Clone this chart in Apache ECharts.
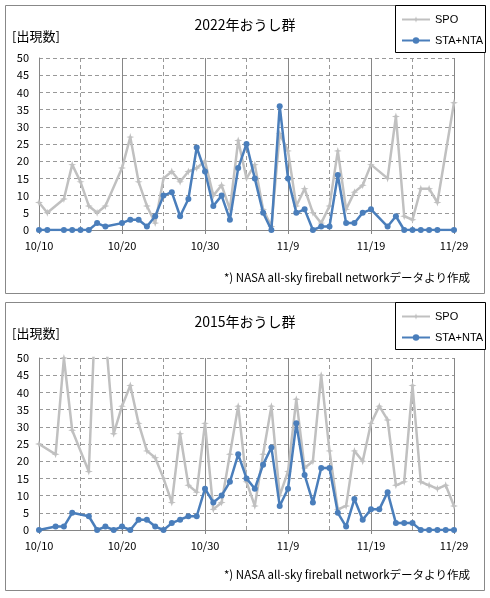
<!DOCTYPE html>
<html>
<head>
<meta charset="utf-8">
<script src="https://cdn.jsdelivr.net/npm/echarts@6/dist/echarts.min.js"></script>
<style>
html,body{margin:0;padding:0;background:#fff;}
#c{width:490px;height:598px;}
</style>
</head>
<body>
<div id="c"></div>
<script>
// Day offset from 10/10
var tickLabels = ['10/10','10/20','10/30','11/9','11/19','11/29'];

var days2022 = [0,1,3,4,5,6,7,8,10,11,12,13,14,15,16,17,18,19,20,21,22,23,24,25,26,27,28,29,30,31,32,33,34,35,36,37,38,39,40,42,43,44,45,46,47,48,50];
var spo2022  = [8,5,9,19,14,7,5,7,18,27,14,7,2,15,17,14,17,18,20,10,13,6,26,15,19,6,1,28,23,7,12,5,2,7,23,6,11,13,19,15,33,4,3,12,12,8,37];
var sta2022  = [0,0,0,0,0,0,2,1,2,3,3,1,4,10,11,4,9,24,17,7,10,3,18,25,15,5,0,36,15,5,6,0,1,1,16,2,2,5,6,1,4,0,0,0,0,0,0];

var days2015 = [0,2,3,4,6,7,8,9,10,11,12,13,14,15,16,17,18,19,20,21,22,23,24,25,26,27,28,29,30,31,32,33,34,35,36,37,38,39,40,41,42,43,44,45,46,47,48,49,50];
var spo2015  = [25,22,50,29,17,76,57,28,36,42,31,23,21,15,8,28,13,11,31,6,8,22,36,14,7,22,36,10,17,38,18,20,45,23,6,7,23,20,31,36,32,13,14,42,14,13,12,13,7];
var sta2015  = [0,1,1,5,4,0,1,0,1,0,3,3,1,0,2,3,4,4,12,8,10,14,22,15,12,19,24,7,12,31,16,8,18,18,5,1,9,3,6,6,11,2,2,2,0,0,0,0,0];

var titles = ['2022年おうし群','2015年おうし群'];
var seriesNames = ['SPO','STA+NTA'];
var note = '*) NASA all-sky fireball networkデータより作成';

function pairs(d, v){ return d.map(function(x,i){ return [x, v[i]]; }); }

var GRAY = '#c0c0c0';
var BLUE = '#4a7ebb';
var LINE = '#868686';
var FONT = '"Noto Sans CJK JP", "Noto Sans", sans-serif';
var LFONT = '"Liberation Sans", Arial, sans-serif';
var star = 'path://M5,0 L6.2,3.8 L10,5 L6.2,6.2 L5,10 L3.8,6.2 L0,5 L3.8,3.8 Z';

var panelTop = [5, 302];
var gridTop = [58, 358];
var gridH = 172;

var option = {
  animation: false,
  backgroundColor: '#fff',
  textStyle: {fontFamily: FONT},
  title: [],
  legend: [],
  grid: [],
  xAxis: [],
  yAxis: [],
  series: [],
  graphic: []
};

[0,1].forEach(function(p){
  var pt = panelTop[p];
  option.graphic.push({type:'rect', shape:{x:5.5, y:pt+0.5, width:479, height:288}, style:{fill:'none', stroke:'#888', lineWidth:1}, z:-1});
  option.graphic.push({type:'rect', shape:{x:395.5, y:pt+0.5, width:90, height:47}, style:{fill:'#fff', stroke:'#000', lineWidth:1}, z:1});
  option.graphic.push({type:'text', left:'center', top: pt+13, style:{text: titles[p], font:'14px '+FONT, fill:'#000'}});
  option.graphic.push({type:'text', left:12, top: pt+25, style:{text: '[出現数]', font:'13px '+FONT, fill:'#000'}});
  option.graphic.push({type:'text', right:20, top: pt+267, style:{text: note, font:'11.5px '+FONT, fill:'#000'}});

  option.legend.push({
    orient:'vertical', left:396, top: pt+4, itemWidth:28, itemHeight:8, itemGap:10,
    textStyle:{fontSize:11, color:'#000', fontFamily:LFONT}, z:5,
    data: seriesNames.map(function(n){ return {name: n + (p===0?'':' ')}; })
  });
  option.grid.push({left:39, top:gridTop[p], width:415, height:gridH});
  option.xAxis.push({
    type:'value', gridIndex:p, min:0, max:50, interval:10,
    axisLine:{show:true, lineStyle:{color:LINE}},
    axisTick:{show:true, length:4, inside:false, lineStyle:{color:LINE}},
    axisLabel:{color:'#000', fontSize:11, margin:10, fontFamily:FONT,
      formatter:function(v){ return tickLabels[Math.round(v/10)]; }},
    splitLine:{show:true, lineStyle:{color:LINE, width:1}},
    minorTick:{show:false, splitNumber:2},
    minorSplitLine:{show:true, lineStyle:{color:'#999', type:[4,3], width:1}}
  });
  option.yAxis.push({
    type:'value', gridIndex:p, min:0, max:50, interval:5,
    axisLine:{show:true, lineStyle:{color:LINE}},
    axisTick:{show:false},
    axisLabel:{color:'#000', fontSize:11, margin:10, fontFamily:FONT},
    splitLine:{show:true, lineStyle:{color:'#999', type:[4,3], width:1}}
  });
  var d = p===0 ? days2022 : days2015;
  var s1 = p===0 ? spo2022 : spo2015;
  var s2 = p===0 ? sta2022 : sta2015;
  var suf = p===0 ? '' : ' ';
  option.series.push({
    name: seriesNames[0]+suf, type:'line', xAxisIndex:p, yAxisIndex:p, clip:true,
    data: pairs(d, s1), symbol: star, symbolSize:8,
    lineStyle:{color:GRAY, width:2.5}, itemStyle:{color:GRAY}, z:2
  });
  option.series.push({
    name: seriesNames[1]+suf, type:'line', xAxisIndex:p, yAxisIndex:p, clip:true,
    data: pairs(d, s2), symbol:'circle', symbolSize:6,
    lineStyle:{color:BLUE, width:2.5}, itemStyle:{color:BLUE}, z:3
  });
});

var chart = echarts.init(document.getElementById('c'), null, {renderer:'canvas'});
chart.setOption(option);
</script>
</body>
</html>
